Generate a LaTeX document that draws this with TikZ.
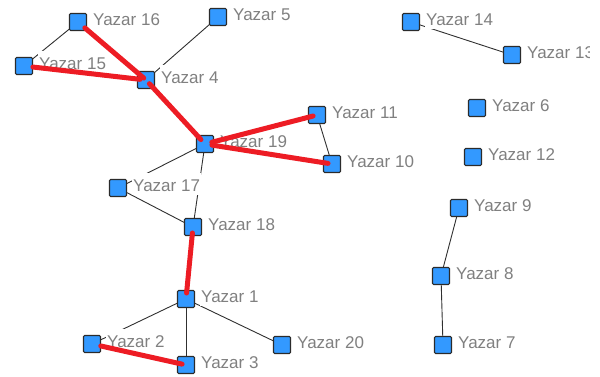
\documentclass[tikz,border=0pt]{standalone}
\usepackage{fontspec}
\setmainfont{Liberation Sans}
\definecolor{nodeblue}{HTML}{3399FF}
\definecolor{nodeedge}{HTML}{2B2B2B}
\definecolor{linkred}{HTML}{ED1C24}
\definecolor{labelgray}{HTML}{808080}
\definecolor{linkgray}{HTML}{303030}
\pgfdeclarelayer{edgelayer}
\pgfdeclarelayer{labellayer}
\pgfdeclarelayer{toplayer}
\pgfsetlayers{edgelayer,labellayer,main,toplayer}
\tikzset{
  sq/.style={draw=nodeedge, line width=1.1pt, fill=nodeblue, minimum size=17pt, inner sep=0pt, rounded corners=1.2pt},
  lab/.style={anchor=base west, fill=white, inner xsep=1pt, inner ysep=0pt, text height=18pt, text depth=4pt, text=labelgray, font=\fontsize{17}{20}\selectfont},
  thinlink/.style={draw=linkgray, line width=0.9pt},
  redlink/.style={draw=linkred, line width=5pt, line cap=round, shorten <=6pt, shorten >=6pt},
}
\newcommand\yz[4]{%
  \node[sq] (n#1) at (#2,#3) {};
  \begin{pgfonlayer}{labellayer}\node[lab] (l#1) at (#2+14,#3+3) {#4};\end{pgfonlayer}
}
\begin{document}
\begin{tikzpicture}[x=1pt,y=-1pt]
\useasboundingbox (0,0) rectangle (600,376);
\clip (0,0) rectangle (600,376);
\yz{16}{78}{22}{Yazar 16}
\yz{5}{218}{17}{Yazar 5}
\yz{15}{24}{66}{Yazar 15}
\yz{4}{146}{80}{Yazar 4}
\yz{19}{205}{144}{Yazar 19}
\yz{11}{317}{115}{Yazar 11}
\yz{10}{332}{164}{Yazar 10}
\yz{17}{118}{188}{Yazar 17}
\yz{18}{193}{227}{Yazar 18}
\yz{1}{186}{299}{Yazar 1}
\yz{2}{92}{344}{Yazar 2}
\yz{3}{186}{365}{Yazar 3}
\yz{20}{282}{345}{Yazar 20}
\yz{14}{411}{22}{Yazar 14}
\yz{13}{512}{55}{Yazar 13}
\yz{6}{477}{108}{Yazar 6}
\yz{12}{473}{157}{Yazar 12}
\yz{9}{459}{208}{Yazar 9}
\yz{8}{441}{276}{Yazar 8}
\yz{7}{443}{345}{Yazar 7}
\begin{pgfonlayer}{edgelayer}
\draw[thinlink] (n16.center) -- (n15.center);
\draw[thinlink] (n5.center) -- (n4.center);
\draw[thinlink] (n11.center) -- (n10.center);
\draw[thinlink] (n19.center) -- (n17.center);
\draw[thinlink] (n19.center) -- (n18.center);
\draw[thinlink] (n17.center) -- (n18.center);
\draw[thinlink] (n1.center) -- (n2.center);
\draw[thinlink] (n1.center) -- (n3.center);
\draw[thinlink] (n1.center) -- (n20.center);
\draw[thinlink] (n14.center) -- (n13.center);
\draw[thinlink] (n9.center) -- (n8.center);
\draw[thinlink] (n8.center) -- (n7.center);
\end{pgfonlayer}
\begin{pgfonlayer}{toplayer}
\draw[redlink, shorten <=9pt, shorten >=3pt] (n16.center) -- (n4.center);
\draw[redlink, shorten <=9pt, shorten >=6pt] (n15.center) -- (n4.center);
\draw[redlink, shorten <=5pt, shorten >=6pt] (n4.center) -- (n19.center);
\draw[redlink, shorten <=7pt, shorten >=4pt] (n19.center) -- (n11.center);
\draw[redlink, shorten <=7pt, shorten >=4pt] (n19.center) -- (n10.center);
\draw[redlink, shorten <=6pt, shorten >=6pt] (n18.center) -- (n1.center);
\draw[redlink, shorten <=9pt, shorten >=4pt] (n2.center) -- (n3.center);
\fill[white] (590,0) rectangle (600,376);
\end{pgfonlayer}
\end{tikzpicture}
\end{document}
